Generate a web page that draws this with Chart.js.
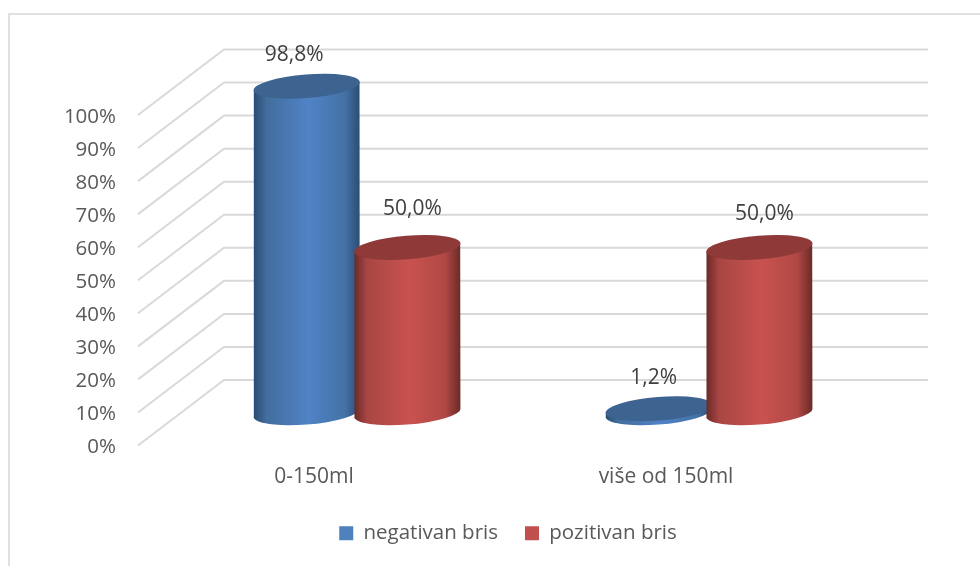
<!DOCTYPE html>
<html>
<head>
<meta charset="utf-8">
<style>
  html, body { margin: 0; padding: 0; background: #fff; }
  canvas { display: block; }
</style>
<script src="https://cdn.jsdelivr.net/npm/chart.js@4"></script>
</head>
<body>
<canvas id="myChart" width="980" height="566"></canvas>
<script>
// podaci ocitani sa slike
const categories = ['0-150ml', 'više od 150ml'];
const negativan = [98.8, 1.2];
const pozitivan = [50.0, 50.0];
const negativanLabel = 'negativan bris';
const pozitivanLabel = 'pozitivan bris';

const FONT = '"Open Sans", sans-serif';
const GRID = '#d9d9d9';
// pomak zadnjeg zida u odnosu na prednju osu
const DEPTH_X = 86;
const DEPTH_Y = -65.5;
const TILT = -4.54 * Math.PI / 180;

const shades = [
  { top: '#3d6390', stops: ['#2b4c73', '#426d9d', '#5083c6', '#4472a6', '#2c4d75'] },
  { top: '#8f3a38', stops: ['#6b2a28', '#a84644', '#c9524f', '#b04845', '#6c2a28'] }
];
// rucno pomaknute oznake, kao u originalu [dx, dy] od sredine vrha valjka
const labelShift = [
  [[-12.5, -31], [-5, -31]],
  [[5, -38], [5, -33]]
];

function drawCylinder(ctx, cx, yTop, yBase, w, shade) {
  const a = w / 2 + 0.4, b = 11.8;
  const t = Math.atan(-b * Math.tan(TILT) / a);
  const slope = 4;
  const grad = ctx.createLinearGradient(cx - w / 2, 0, cx + w / 2, 0);
  [0, 0.12, 0.52, 0.86, 1].forEach((p, i) => grad.addColorStop(p, shade.stops[i]));
  ctx.beginPath();
  ctx.moveTo(cx - w / 2, yTop + slope);
  ctx.lineTo(cx - w / 2, yBase + slope);
  ctx.ellipse(cx, yBase, a, b, TILT, Math.PI + t, t, true);
  ctx.lineTo(cx + w / 2, yTop - slope);
  ctx.closePath();
  ctx.fillStyle = grad;
  ctx.fill();
  ctx.beginPath();
  ctx.ellipse(cx, yTop, a, b, TILT, 0, Math.PI * 2);
  ctx.fillStyle = shade.top;
  ctx.fill();
}

// okvir i 3D mreza
const wallPlugin = {
  id: 'wall',
  beforeDraw(chart) {
    const ctx = chart.ctx, x = chart.scales.x, y = chart.scales.y;
    ctx.save();
    ctx.strokeStyle = '#e0e0e0';
    ctx.lineWidth = 2;
    ctx.beginPath();
    ctx.moveTo(9, 566);
    ctx.lineTo(9, 14);
    ctx.lineTo(980, 14);
    ctx.stroke();
    ctx.strokeStyle = GRID;
    ctx.lineWidth = 2;
    y.ticks.forEach(tick => {
      const py = y.getPixelForValue(tick.value);
      ctx.beginPath();
      ctx.moveTo(x.left, py);
      ctx.lineTo(x.left + DEPTH_X, py + DEPTH_Y);
      ctx.lineTo(x.right + DEPTH_X, py + DEPTH_Y);
      ctx.stroke();
    });
    ctx.restore();
  },
  afterLayout(chart) {
    // legenda nije centrirana na platnu
    const lg = chart.legend;
    lg.left = 0;
    lg.right = 1016;
    lg.top = 496;
    lg.bottom = 566;
  }
};

// valjci umjesto ravnih stupaca
const cylinderPlugin = {
  id: 'cylinder',
  beforeDatasetsDraw(chart) {
    const ctx = chart.ctx, y = chart.scales.y;
    const base = y.getPixelForValue(0) + DEPTH_Y / 2;
    ctx.save();
    categories.forEach((c, i) => {
      chart.data.datasets.forEach((ds, d) => {
        const bar = chart.getDatasetMeta(d).data[i];
        drawCylinder(ctx, bar.x + DEPTH_X / 2, bar.y + DEPTH_Y / 2, base, bar.width, shades[d]);
      });
    });
    ctx.font = '21px ' + FONT;
    ctx.fillStyle = '#404040';
    ctx.textAlign = 'center';
    ctx.textBaseline = 'middle';
    categories.forEach((c, i) => {
      chart.data.datasets.forEach((ds, d) => {
        const bar = chart.getDatasetMeta(d).data[i];
        const s = labelShift[d][i];
        const txt = ds.data[i].toFixed(1).replace('.', ',') + '%';
        ctx.fillText(txt, bar.x + DEPTH_X / 2 + s[0], bar.y + DEPTH_Y / 2 + s[1]);
      });
    });
    ctx.restore();
    return false;
  }
};

new Chart(document.getElementById('myChart').getContext('2d'), {
  type: 'bar',
  data: {
    labels: categories,
    datasets: [
      { label: negativanLabel, data: negativan, backgroundColor: '#4f81bd' },
      { label: pozitivanLabel, data: pozitivan, backgroundColor: '#c0504d' }
    ]
  },
  options: {
    responsive: false,
    animation: false,
    categoryPercentage: 0.572,
    barPercentage: 1.05,
    layout: { padding: { top: 115, right: 138, left: 0, bottom: 20 } },
    plugins: {
      title: { display: false },
      tooltip: { enabled: false },
      legend: {
        position: 'bottom',
        labels: {
          boxWidth: 14,
          boxHeight: 14,
          padding: 27,
          color: '#595959',
          font: { family: FONT, size: 20.5 }
        }
      }
    },
    scales: {
      x: {
        grid: { display: false },
        border: { display: false },
        afterFit(scale) { scale.height = 43; },
        ticks: { color: '#595959', padding: 11, maxRotation: 0, font: { family: FONT, size: 21 } }
      },
      y: {
        min: 0,
        max: 100,
        afterFit(scale) { scale.width = 138; },
        grid: { display: false, drawTicks: false },
        border: { display: false },
        ticks: {
          stepSize: 10,
          padding: 22,
          labelOffset: 2,
          color: '#595959',
          font: { family: FONT, size: 20.5 },
          callback: v => v + '%'
        }
      }
    }
  },
  plugins: [wallPlugin, cylinderPlugin]
});
</script>
</body>
</html>
